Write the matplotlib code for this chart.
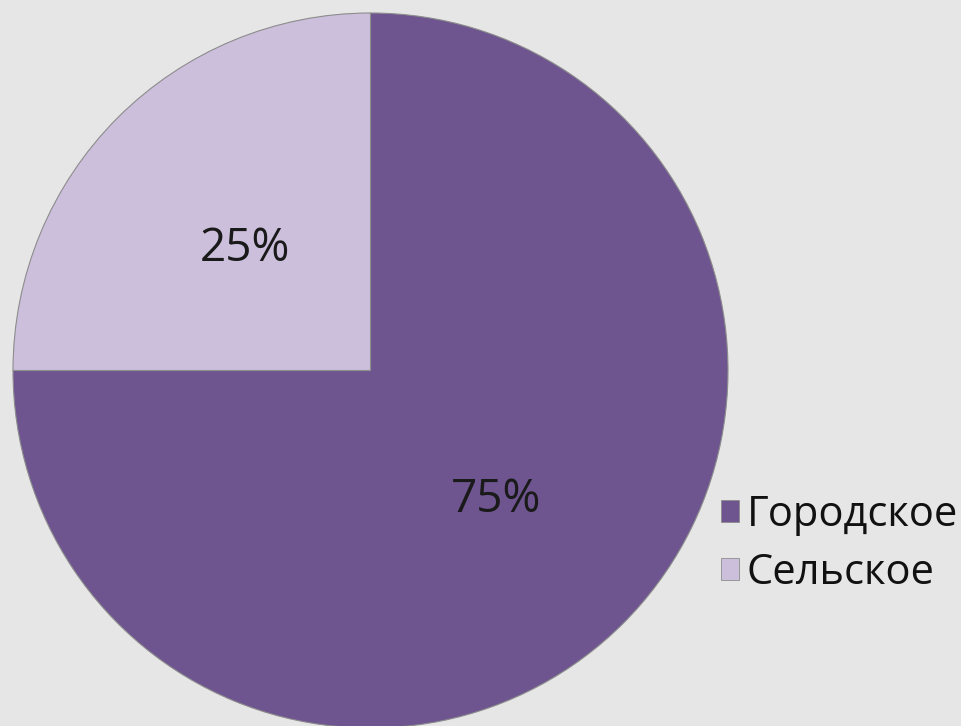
import matplotlib
matplotlib.use("Agg")
import matplotlib.pyplot as plt
from matplotlib.patches import Patch
from matplotlib.transforms import offset_copy

categories = ["Городское", "Сельское"]
values = [75, 25]
colors = ["#6e5590", "#ccbfdc"]

W, H = 961, 726
fig = plt.figure(figsize=(W / 100, H / 100), dpi=100, facecolor="#e6e6e6")
ax = fig.add_axes([0, 0, 1, 1])
ax.set_facecolor("#e6e6e6")

cx, cy, r = 370.5, H - 370.5, 357.5
wedges, texts, autotexts = ax.pie(
    values, colors=colors, startangle=90, counterclock=False,
    center=(cx, cy), radius=r, autopct="%d%%", pctdistance=0.497,
    wedgeprops=dict(edgecolor="#8c8c8c", linewidth=0.8),
    textprops=dict(fontsize=33, color="#1a1a1a", family=["Open Sans", "DejaVu Sans"]),
    frame=True,
)
for t in autotexts:
    t.set_transform(offset_copy(ax.transData, fig=fig, x=0, y=-3, units="points"))
ax.set_xlim(0, W)
ax.set_ylim(0, H)
ax.set_aspect("equal")
ax.axis("off")

handles = [Patch(facecolor=c, edgecolor="#8c8c8c", linewidth=0.6) for c in colors]
leg = fig.legend(handles, categories, loc="upper left",
                 bbox_to_anchor=(721 / W, 1 - 494 / H), frameon=False,
                 handlelength=0.43, handleheight=0.43, handletextpad=0.19,
                 labelspacing=0.38, borderaxespad=0, borderpad=0,
                 prop=dict(family=["Open Sans", "DejaVu Sans"], size=30))
for t in leg.get_texts():
    t.set_color("#111111")

fig.savefig("out.png", dpi=100, facecolor=fig.get_facecolor())
